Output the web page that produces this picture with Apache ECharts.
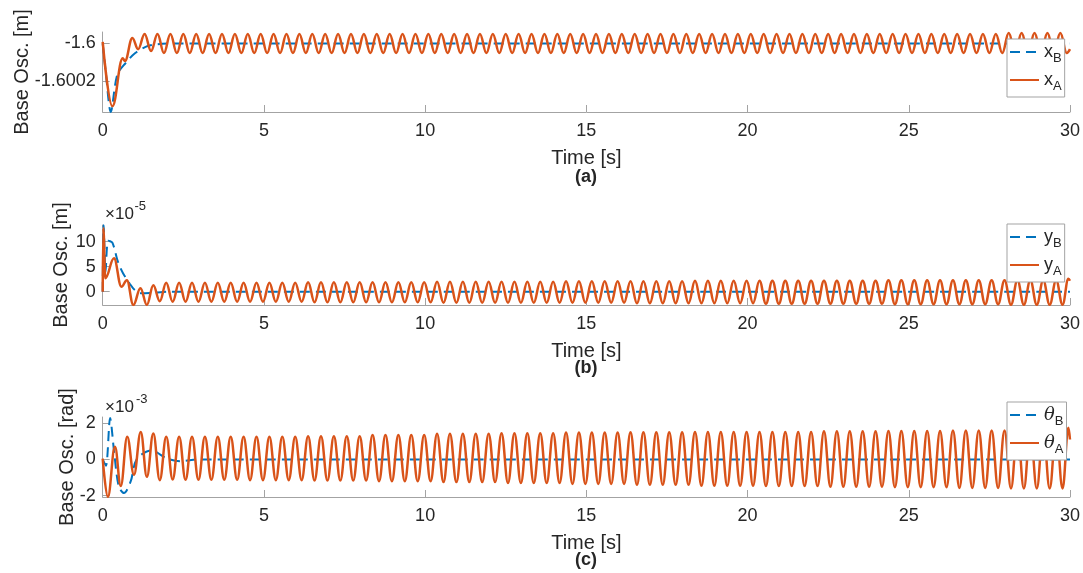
<!DOCTYPE html>
<html><head><meta charset="utf-8">
<script src="https://cdn.jsdelivr.net/npm/echarts@6/dist/echarts.min.js"></script>
<style>html,body{margin:0;padding:0;background:#fff}#c{width:1083px;height:573px}</style>
</head><body><div id="c"></div>
<script>
// ---------- data ----------
const xTicks = [0, 5, 10, 15, 20, 25, 30];
const yTicksA = [-1.6002, -1.6];
const yTicksB = [0, 5, 10];        // x 1e-5 m
const yTicksC = [-2, 0, 2];        // x 1e-3 rad
const yRangeA = [-1.60036, -1.59994];
const yRangeB = [-2.66, 13.34];
const yRangeC = [-2.07, 2.34];
const panelTags = ['(a)', '(b)', '(c)'];

// (a) base x-oscillation [m]
const xB = [[0,-1.6],[0.1,-1.60016],[0.25,-1.60036],[0.45,-1.600165],[0.71,-1.600103],[1.0,-1.600052],[1.33,-1.600018],[1.7,-1.600004],[2.2,-1.6],[30,-1.6]];
const xA = [
[0,-1.599992],[0.30,-1.60033],[0.62,-1.600078],[0.69,-1.600092],[0.92,-1.599971],[1.1,-1.60003],
[1.3,-1.59995],[1.5,-1.60004],[1.7,-1.59995],[1.9,-1.60005],[2.1,-1.59995],[2.3,-1.60005],[2.5,-1.59995],[2.7,-1.60005],[2.9,-1.59995],[3.1,-1.60005],
[3.3,-1.59995],[3.5,-1.60005],[3.7,-1.59995],[3.9,-1.60005],[4.1,-1.59995],[4.3,-1.60005],[4.5,-1.59995],[4.7,-1.60005],[4.9,-1.59995],[5.1,-1.60005],
[5.3,-1.59995],[5.5,-1.60005],[5.7,-1.59995],[5.9,-1.60005],[6.1,-1.59995],[6.3,-1.60005],[6.5,-1.59995],[6.7,-1.60005],[6.9,-1.59995],[7.1,-1.60005],
[7.3,-1.59995],[7.5,-1.60005],[7.7,-1.59995],[7.9,-1.60005],[8.1,-1.59995],[8.3,-1.60005],[8.5,-1.59995],[8.7,-1.60005],[8.9,-1.59995],[9.1,-1.60005],
[9.3,-1.59995],[9.5,-1.60005],[9.7,-1.59995],[9.9,-1.60005],[10.1,-1.59995],[10.3,-1.60005],[10.5,-1.59995],[10.7,-1.60005],[10.9,-1.59995],[11.1,-1.60005],
[11.3,-1.59995],[11.5,-1.60005],[11.7,-1.59995],[11.9,-1.60005],[12.1,-1.59995],[12.3,-1.60005],[12.5,-1.59995],[12.7,-1.60005],[12.9,-1.59995],[13.1,-1.60005],
[13.3,-1.59995],[13.5,-1.60005],[13.7,-1.59995],[13.9,-1.60005],[14.1,-1.59995],[14.3,-1.60005],[14.5,-1.59995],[14.7,-1.60005],[14.9,-1.59995],[15.1,-1.60005],
[15.3,-1.59995],[15.5,-1.60005],[15.7,-1.59995],[15.9,-1.60005],[16.1,-1.59995],[16.3,-1.60005],[16.5,-1.59995],[16.7,-1.60005],[16.9,-1.59995],[17.1,-1.60005],
[17.3,-1.59995],[17.5,-1.60005],[17.7,-1.59995],[17.9,-1.60005],[18.1,-1.59995],[18.3,-1.60005],[18.5,-1.59995],[18.7,-1.60005],[18.9,-1.59995],[19.1,-1.60005],
[19.3,-1.59995],[19.5,-1.60005],[19.7,-1.59995],[19.9,-1.60005],[20.1,-1.59995],[20.3,-1.60005],[20.5,-1.59995],[20.7,-1.60005],[20.9,-1.59995],[21.1,-1.60005],
[21.3,-1.59995],[21.5,-1.60005],[21.7,-1.59995],[21.9,-1.60005],[22.1,-1.59995],[22.3,-1.60005],[22.5,-1.59995],[22.7,-1.60005],[22.9,-1.59995],[23.1,-1.60005],
[23.3,-1.59995],[23.5,-1.60005],[23.7,-1.59995],[23.9,-1.60005],[24.1,-1.59995],[24.3,-1.60005],[24.5,-1.59995],[24.7,-1.60005],[24.9,-1.59995],[25.1,-1.60005],
[25.3,-1.59995],[25.5,-1.60005],[25.7,-1.59995],[25.9,-1.60005],[26.1,-1.59995],[26.3,-1.60005],[26.5,-1.59995],[26.7,-1.60005],[26.9,-1.59995],[27.1,-1.60005],
[27.3,-1.59995],[27.5,-1.60005],[27.7,-1.59995],[27.9,-1.60005],[28.1,-1.599945],[28.3,-1.60005],[28.5,-1.599945],[28.7,-1.60005],[28.9,-1.599945],[29.1,-1.60005],
[29.3,-1.599945],[29.5,-1.60005],[29.7,-1.599945],[29.9,-1.60005],[30,-1.60003]
];

// (b) base y-oscillation [x 1e-5 m]
const yB = [[0,0],[0.03,13.3],[0.09,4],[0.17,10.2],[0.3,9.8],[0.47,6],[0.63,3.7],[0.85,1.5],[1.0,0.3],[1.2,-0.3],[1.6,-0.2],[2.1,0],[30,0]];
const yA = [
[0,0],[0.02,12.7],[0.08,2.7],[0.35,6.7],[0.58,1.0],[0.75,2.3],[0.95,-2.65],[1.17,0.7],[1.37,-2.65],[1.57,1.3],[1.77,-1.9],[1.97,1.8],[2.17,-2.0],
[2.37,1.8],[2.57,-2.0],[2.77,1.8],[2.97,-2.0],[3.17,1.8],[3.37,-2.0],[3.57,1.8],[3.77,-2.0],[3.97,1.8],[4.17,-2.0],
[4.37,1.8],[4.57,-2.0],[4.77,1.8],[4.97,-2.0],[5.17,1.8],[5.37,-2.0],[5.57,1.8],[5.77,-2.0],[5.97,1.8],[6.17,-2.0],
[6.37,1.9],[6.57,-2.1],[6.77,1.9],[6.97,-2.1],[7.17,1.9],[7.37,-2.1],[7.57,1.9],[7.77,-2.1],[7.97,1.9],[8.17,-2.1],
[8.37,1.9],[8.57,-2.1],[8.77,1.9],[8.97,-2.1],[9.17,1.9],[9.37,-2.1],[9.57,1.9],[9.77,-2.1],[9.97,1.9],[10.17,-2.1],
[10.37,2.0],[10.57,-2.2],[10.77,2.0],[10.97,-2.2],[11.17,2.0],[11.37,-2.2],[11.57,2.0],[11.77,-2.2],[11.97,2.0],[12.17,-2.2],
[12.37,2.0],[12.57,-2.2],[12.77,2.0],[12.97,-2.2],[13.17,2.0],[13.37,-2.2],[13.57,2.0],[13.77,-2.2],[13.97,2.0],[14.17,-2.2],
[14.37,2.1],[14.57,-2.2],[14.77,2.1],[14.97,-2.2],[15.17,2.1],[15.37,-2.2],[15.57,2.1],[15.77,-2.2],[15.97,2.1],[16.17,-2.2],
[16.37,2.1],[16.57,-2.3],[16.77,2.1],[16.97,-2.3],[17.17,2.1],[17.37,-2.3],[17.57,2.1],[17.77,-2.3],[17.97,2.1],[18.17,-2.3],
[18.37,2.2],[18.57,-2.3],[18.77,2.2],[18.97,-2.3],[19.17,2.2],[19.37,-2.3],[19.57,2.2],[19.77,-2.3],[19.97,2.2],[20.17,-2.3],
[20.37,2.2],[20.57,-2.4],[20.77,2.2],[20.97,-2.4],[21.17,2.2],[21.37,-2.4],[21.57,2.2],[21.77,-2.4],[21.97,2.2],[22.17,-2.4],
[22.37,2.2],[22.57,-2.4],[22.77,2.2],[22.97,-2.4],[23.17,2.2],[23.37,-2.4],[23.57,2.2],[23.77,-2.4],[23.97,2.2],[24.17,-2.4],
[24.37,2.3],[24.57,-2.5],[24.77,2.3],[24.97,-2.5],[25.17,2.3],[25.37,-2.5],[25.57,2.3],[25.77,-2.5],[25.97,2.3],[26.17,-2.5],
[26.37,2.3],[26.57,-2.5],[26.77,2.3],[26.97,-2.5],[27.17,2.3],[27.37,-2.5],[27.57,2.3],[27.77,-2.5],[27.97,2.3],[28.17,-2.6],
[28.37,2.3],[28.57,-2.6],[28.77,2.3],[28.97,-2.6],[29.17,2.3],[29.37,-2.6],[29.57,2.3],[29.77,-2.6],[29.95,2.6],[30,2.2]
];

// (c) base rotation [x 1e-3 rad]
const thB = [[0,0],[0.1,-0.35],[0.23,2.28],[0.36,0.3],[0.5,-1.5],[0.66,-1.85],[0.87,-1.2],[1.05,0],[1.5,0.5],[2.0,0.05],[2.4,-0.1],[3.0,0],[30,0]];
const thA = [
[0,0.05],[0.16,-2.06],[0.38,0.7],[0.56,-1.47],[0.76,1.25],[0.97,-0.85],[1.18,1.52],[1.37,-0.96],[1.57,1.43],[1.77,-1.14],[1.97,1.25],[2.17,-1.1],
[2.37,1.25],[2.57,-1.12],[2.77,1.25],[2.97,-1.12],[3.17,1.25],[3.37,-1.12],[3.57,1.25],[3.77,-1.12],[3.97,1.25],[4.17,-1.12],
[4.37,1.25],[4.57,-1.14],[4.77,1.25],[4.97,-1.14],[5.17,1.25],[5.37,-1.14],[5.57,1.25],[5.77,-1.14],[5.97,1.25],[6.17,-1.14],
[6.37,1.28],[6.57,-1.16],[6.77,1.28],[6.97,-1.16],[7.17,1.28],[7.37,-1.16],[7.57,1.28],[7.77,-1.16],[7.97,1.28],[8.17,-1.16],
[8.37,1.35],[8.57,-1.2],[8.77,1.35],[8.97,-1.2],[9.17,1.35],[9.37,-1.2],[9.57,1.35],[9.77,-1.2],[9.97,1.35],[10.17,-1.2],
[10.37,1.42],[10.57,-1.25],[10.77,1.42],[10.97,-1.25],[11.17,1.42],[11.37,-1.25],[11.57,1.42],[11.77,-1.25],[11.97,1.42],[12.17,-1.25],
[12.37,1.45],[12.57,-1.3],[12.77,1.45],[12.97,-1.3],[13.17,1.45],[13.37,-1.3],[13.57,1.45],[13.77,-1.3],[13.97,1.45],[14.17,-1.3],
[14.37,1.48],[14.57,-1.35],[14.77,1.48],[14.97,-1.35],[15.17,1.48],[15.37,-1.35],[15.57,1.48],[15.77,-1.35],[15.97,1.48],[16.17,-1.35],
[16.37,1.5],[16.57,-1.4],[16.77,1.5],[16.97,-1.4],[17.17,1.5],[17.37,-1.4],[17.57,1.5],[17.77,-1.4],[17.97,1.5],[18.17,-1.4],
[18.37,1.52],[18.57,-1.45],[18.77,1.52],[18.97,-1.45],[19.17,1.52],[19.37,-1.45],[19.57,1.52],[19.77,-1.45],[19.97,1.52],[20.17,-1.45],
[20.37,1.52],[20.57,-1.47],[20.77,1.52],[20.97,-1.47],[21.17,1.52],[21.37,-1.47],[21.57,1.52],[21.77,-1.47],[21.97,1.52],[22.17,-1.47],
[22.37,1.55],[22.57,-1.5],[22.77,1.55],[22.97,-1.5],[23.17,1.55],[23.37,-1.5],[23.57,1.55],[23.77,-1.5],[23.97,1.55],[24.17,-1.5],
[24.37,1.57],[24.57,-1.53],[24.77,1.57],[24.97,-1.53],[25.17,1.57],[25.37,-1.53],[25.57,1.57],[25.77,-1.53],[25.97,1.57],[26.17,-1.53],
[26.37,1.6],[26.57,-1.57],[26.77,1.6],[26.97,-1.57],[27.17,1.6],[27.37,-1.57],[27.57,1.6],[27.77,-1.57],[27.97,1.6],[28.17,-1.6],
[28.37,1.62],[28.57,-1.6],[28.77,1.62],[28.97,-1.6],[29.17,1.62],[29.37,-1.6],[29.57,1.62],[29.77,-1.6],[29.95,1.75],[30,1.1]
];

// ---------- chart ----------
const FONT = '"Liberation Sans", Arial, Helvetica, sans-serif';
const AX = '#a3a3a3', TXT = '#262626';
const BLUE = '#0072BD', ORANGE = '#D95319';
const LEFT = 102.7, WIDTH = 967.3, HEIGHT = 80;
const TOPS = [32, 225, 417];
const yNames = ['Base Osc. [m]', 'Base Osc. [m]', 'Base Osc. [rad]'];
const yNameGaps = [70.5, 31, 25];
const yRanges = [yRangeA, yRangeB, yRangeC];
const yTicks = [yTicksA, yTicksB, yTicksC];

const fmt = v => String(+(+v).toFixed(6));

const grids = TOPS.map(t => ({left: LEFT, top: t, width: WIDTH, height: HEIGHT, containLabel: false}));
const xAxes = TOPS.map((t, i) => ({
  gridIndex: i, type: 'value', min: xTicks[0], max: xTicks[xTicks.length - 1], interval: 5,
  axisLine: {show: true, onZero: false, lineStyle: {color: AX, width: 1}},
  axisTick: {show: true, inside: true, length: 7, lineStyle: {color: AX, width: 1}},
  axisLabel: {fontSize: 18, color: TXT, fontFamily: FONT, margin: 10, showMinLabel: true, showMaxLabel: true},
  splitLine: {show: false},
  name: 'Time [s]', nameLocation: 'middle', nameGap: 36, nameMoveOverlap: false,
  nameTextStyle: {fontSize: 20, color: TXT, fontFamily: FONT}
}));
const yAxes = TOPS.map((t, i) => ({
  gridIndex: i, type: 'value', min: yRanges[i][0], max: yRanges[i][1],
  axisLine: {show: true, onZero: false, lineStyle: {color: AX, width: 1}},
  axisTick: {show: true, inside: true, length: 7, customValues: yTicks[i], lineStyle: {color: AX, width: 1}},
  axisLabel: {fontSize: 18, color: TXT, fontFamily: FONT, margin: 7, customValues: yTicks[i], formatter: fmt},
  splitLine: {show: false},
  name: yNames[i], nameLocation: 'middle', nameGap: yNameGaps[i], nameMoveOverlap: false,
  nameTextStyle: {fontSize: 20, color: TXT, fontFamily: FONT}
}));

const legendLabels = {
  'x_B': '{n|x}{s|B}', 'x_A': '{n|x}{s|A}',
  'y_B': '{n|y}{s|B}', 'y_A': '{n|y}{s|A}',
  'θ_B': '{t|θ}{s|B}', 'θ_A': '{t|θ}{s|A}'
};
const legendTops = [39, 224, 402];
const legendData = [['x_B', 'x_A'], ['y_B', 'y_A'], ['θ_B', 'θ_A']];
const legends = legendTops.map((t, i) => ({
  data: legendData[i], left: 1007, top: t, orient: 'vertical',
  itemWidth: 29, itemHeight: 14, itemGap: 6, itemTextGap: 3,
  padding: [4, 3, 4, 2], backgroundColor: '#fff', borderColor: AX, borderWidth: 1, borderRadius: 0,
  selectedMode: false,
  itemStyle: {color: 'rgba(0,0,0,0)', borderWidth: 0},
  formatter: n => legendLabels[n],
  textStyle: {color: TXT, fontFamily: FONT, fontSize: 18,
    rich: {
      n: {fontSize: 18, lineHeight: 18, verticalAlign: 'top', fontFamily: FONT, color: TXT},
      t: {fontSize: 18, lineHeight: 18, verticalAlign: 'top', fontStyle: 'italic', fontFamily: '"DejaVu Serif", "Liberation Serif", serif', color: TXT},
      s: {fontSize: 13, lineHeight: 13, verticalAlign: 'top', padding: [9, 0, 0, 0], fontFamily: FONT, color: TXT}
    }}
}));

function mk(name, data, i, isA) {
  return {
    type: 'line', name: name, xAxisIndex: i, yAxisIndex: i, data: data,
    symbol: 'none', showSymbol: false,
    smooth: isA ? 0.4 : 0.3, smoothMonotone: isA ? 'x' : undefined,
    lineStyle: isA ? {color: ORANGE, width: 2.5} : {color: BLUE, width: 2, type: [10, 6]},
    itemStyle: {color: isA ? ORANGE : BLUE},
    z: isA ? 3 : 2, animation: false, silent: true
  };
}

const series = [
  mk('x_B', xB, 0, false), mk('x_A', xA, 0, true),
  mk('y_B', yB, 1, false), mk('y_A', yA, 1, true),
  mk('θ_B', thB, 2, false), mk('θ_A', thA, 2, true)
];

const graphic = [
  {type: 'text', x: 105, y: 214, style: {text: '×10', fontSize: 17, fontFamily: FONT, fill: TXT, verticalAlign: 'middle'}},
  {type: 'text', x: 134.5, y: 206.5, style: {text: '-5', fontSize: 13, fontFamily: FONT, fill: TXT, verticalAlign: 'middle'}},
  {type: 'text', x: 105, y: 407.5, style: {text: '×10', fontSize: 17, fontFamily: FONT, fill: TXT, verticalAlign: 'middle'}},
  {type: 'text', x: 136, y: 399, style: {text: '-3', fontSize: 13, fontFamily: FONT, fill: TXT, verticalAlign: 'middle'}}
].concat(panelTags.map((tag, i) => ({
  type: 'text', x: 586, y: [177, 368, 560][i],
  style: {text: tag, fontSize: 18, fontWeight: 'bold', fontFamily: FONT, fill: TXT, align: 'center', verticalAlign: 'middle'}
})));

const chart = echarts.init(document.getElementById('c'), null, {renderer: 'canvas'});
chart.setOption({
  backgroundColor: '#fff',
  animation: false,
  grid: grids, xAxis: xAxes, yAxis: yAxes,
  legend: legends, series: series, graphic: graphic
});
</script>
</body></html>
